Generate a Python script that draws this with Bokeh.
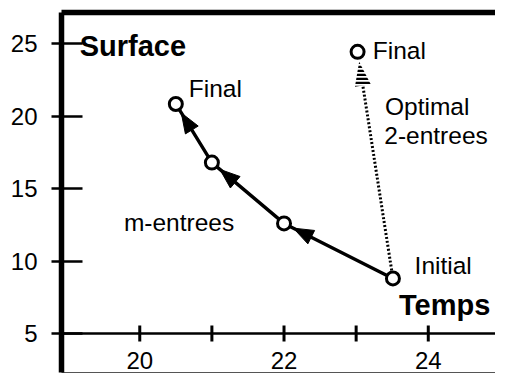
import numpy as np
from bokeh.plotting import figure
from bokeh.models import Range1d, FixedTicker, LinearAxis, Span
from bokeh.core.properties import value
from bokeh.embed import file_html
from bokeh.resources import INLINE

# ---------------- data ----------------
m_temps = [23.51, 22.0, 21.0, 20.5]          # m-entrees path: Initial -> Final
m_surface = [8.8, 12.6, 16.8, 20.85]
opt_temps = [23.51, 23.02]                    # Optimal 2-entrees: Initial -> Final
opt_surface = [8.8, 24.45]

y_ticks = [5, 10, 15, 20, 25]
x_ticks = [20, 21, 22, 23, 24]
x_label_values = [20, 22, 24]
x_label_texts = ["20", "22", "24"]
x_axis_at = 5                                  # the x axis line crosses at Surface = 5

labels = ["Final", "Final", "Initial", "Optimal", "2-entrees", "m-entrees"]
label_x = [20.68, 23.23, 23.81, 23.40, 23.39, 19.78]
label_y = [21.9, 24.57, 9.67, 20.67, 18.67, 12.67]
titles = ["Surface", "Temps"]
title_x = [19.167, 23.594]
title_y = [24.83, 6.93]

# ---------------- geometry ----------------
W, H = 495, 373
FL, FT, FB = 61, 12, 1
FW, FH = W - FL, H - FT - FB
X0, X1 = 18.915, 24.932
Y0, Y1 = 2.30, 27.17
PX_X = FW / (X1 - X0)
PX_Y = FH / (Y1 - Y0)

FONT = value("Liberation Sans")

p = figure(width=W, height=H, x_range=Range1d(X0, X1), y_range=Range1d(Y0, Y1),
           output_backend="svg", toolbar_location=None,
           x_axis_location=None, y_axis_location="left")
p.min_border_left = FL
p.min_border_right = 0
p.min_border_top = FT
p.min_border_bottom = FB
p.outline_line_color = None
p.grid.visible = False
p.background_fill_color = "white"
p.border_fill_color = "white"

ya = p.yaxis[0]
ya.ticker = FixedTicker(ticks=y_ticks)
ya.axis_line_width = 5.5
ya.axis_line_color = "black"
ya.major_tick_in = 21
ya.major_tick_out = 10
ya.major_tick_line_width = 2.5
ya.major_tick_line_color = "black"
ya.minor_tick_line_color = None
ya.major_label_standoff = 14
ya.major_label_text_font = "Liberation Sans"
ya.major_label_text_font_size = "24px"
ya.major_label_text_color = "black"

top = LinearAxis(ticker=FixedTicker(ticks=[]), axis_line_width=5.5, axis_line_color="black",
                 major_tick_line_color=None, minor_tick_line_color=None,
                 major_label_text_font_size="0px")
p.add_layout(top, "above")
bottom = LinearAxis(ticker=FixedTicker(ticks=[]), axis_line_width=1, axis_line_color="#555555",
                    major_tick_line_color=None, minor_tick_line_color=None,
                    major_label_text_font_size="0px")
p.add_layout(bottom, "below")

# x axis drawn inside the frame at Surface = 5
p.add_layout(Span(location=x_axis_at, dimension="width", line_width=2.5, line_color="black"))
p.scatter(x=x_ticks, y=[x_axis_at] * len(x_ticks), marker="dash", angle=np.pi / 2,
          size=16, line_width=3, line_color="black")
p.text(x=x_label_values, y=[x_axis_at] * len(x_label_values), text=x_label_texts,
       text_align="center", text_baseline="middle", y_offset=27.5,
       text_font=FONT, text_font_size=value("24px"), text_color="black")


def head(x1, y1, x2, y2, gap, length, half):
    dx, dy = (x2 - x1) * PX_X, (y2 - y1) * PX_Y
    n = np.hypot(dx, dy)
    ux, uy = dx / n, dy / n
    tx, ty = x2 - ux * gap / PX_X, y2 - uy * gap / PX_Y
    bx, by = tx - ux * length / PX_X, ty - uy * length / PX_Y
    nx, ny = -uy, ux
    xs = [tx, bx + nx * half / PX_X, bx - nx * half / PX_X]
    ys = [ty, by + ny * half / PX_Y, by - ny * half / PX_Y]
    return xs, ys, bx, by


# m-entrees path
p.line(m_temps, m_surface, line_width=3.4, line_color="black")
hx, hy = [], []
for i in range(len(m_temps) - 1):
    xs, ys, _, _ = head(m_temps[i], m_surface[i], m_temps[i + 1], m_surface[i + 1], 10.5, 20, 7.5)
    hx.append(xs)
    hy.append(ys)
p.patches(hx, hy, fill_color="black", line_color="black", line_width=1)

# optimal 2-entrees dotted path
oxs, oys, obx, oby = head(opt_temps[0], opt_surface[0], opt_temps[1], opt_surface[1], 10, 24, 8)
p.line([opt_temps[0], obx], [opt_surface[0], oby], line_width=3, line_dash="2 2",
       line_color="black")
p.patch(oxs, oys, fill_color=None, line_color=None, hatch_pattern="horizontal_line",
        hatch_scale=4, hatch_weight=2.5, hatch_color="black")

# points
p.scatter(m_temps + opt_temps[1:], m_surface + opt_surface[1:], size=13,
          fill_color="white", line_color="black", line_width=3)

# annotations
p.text(x=label_x, y=label_y, text=labels, text_align="left", text_baseline="middle",
       text_font=FONT, text_font_size=value("24.5px"), text_color="black")
p.text(x=title_x, y=title_y, text=titles, text_align="left", text_baseline="middle",
       text_font=FONT, text_font_size=value("29px"), text_font_style="bold", text_color="black")

open("out.html", "w").write(file_html(p, INLINE))
